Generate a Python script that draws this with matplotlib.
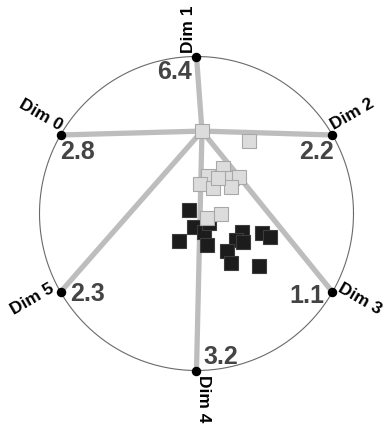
import matplotlib.pyplot as plt
import numpy as np

# dimension anchors on the unit circle (degrees) and their labels
dims = ["Dim 0", "Dim 1", "Dim 2", "Dim 3", "Dim 4", "Dim 5"]
angles = [150, 90, 30, -30, -90, -150]
weights = ["2.8", "6.4", "2.2", "1.1", "3.2", "2.3"]

# hub where all the axis lines meet
hub_x, hub_y = 0.035, 0.525

# light group
light_x = [0.035, 0.336, 0.167, 0.075, 0.022, 0.103, 0.224, 0.271, 0.218, 0.139, 0.065, 0.154]
light_y = [0.525, 0.464, 0.288, 0.241, 0.186, 0.161, 0.224, 0.234, 0.171, 0.224, -0.027, -0.005]

# dark group
dark_x = [-0.046, -0.016, 0.048, 0.080, -0.111, 0.065, 0.288, 0.250, 0.298, 0.192, 0.415, 0.468, 0.218, 0.398]
dark_y = [0.022, -0.084, -0.116, -0.062, -0.173, -0.201, -0.120, -0.169, -0.183, -0.237, -0.126, -0.152, -0.317, -0.334]

# pixel offsets of the weight numbers from each anchor
num_off = [(17, -17), (-22, -15), (-16, -17), (-26, -4), (24, 14), (27, -2)]

plt.rcParams['font.family'] = ['Liberation Sans', 'DejaVu Sans']

fig = plt.figure(figsize=(3.84, 4.32), dpi=100)
ax = fig.add_axes([0, 0, 1, 1])
ax.set_xlim(-1.2516, 1.1943)
ax.set_ylim(-1.3917, 1.3599)
ax.set_aspect('equal')
ax.axis('off')

t = np.linspace(0, 2 * np.pi, 400)
ax.plot(np.cos(t), np.sin(t), color='#6a6a6a', lw=0.8, zorder=1)

ang = np.radians(angles)
ax_x = np.cos(ang)
ax_y = np.sin(ang)

for i in range(len(dims)):
    ax.plot([hub_x, ax_x[i]], [hub_y, ax_y[i]], color='#bdbdbd', lw=3.8,
            solid_capstyle='butt', zorder=2)

ax.plot(ax_x, ax_y, 'o', color='black', ms=5.8, zorder=5)

ax.plot(dark_x, dark_y, 's', ms=10, mfc='#1c1c1c', mec='#3c3c3c', mew=0.8, zorder=3)
ax.plot(light_x, light_y, 's', ms=10, mfc='#dcdcdc', mec='#a8a8a8', mew=0.8, zorder=4)

for i in range(len(dims)):
    a = angles[i]
    dx = 4 * np.cos(ang[i])
    dy = 4 * np.sin(ang[i])
    if np.cos(ang[i]) > 0.01 or a in (90, -90):
        rot, ha = a, 'left'
    else:
        rot, ha = a + 180 if a < 0 else a - 180, 'right'
    ax.annotate(dims[i], (ax_x[i], ax_y[i]), xytext=(dx, dy), textcoords='offset pixels',
                rotation=rot, rotation_mode='anchor', ha=ha, va='bottom',
                fontsize=12.5, fontweight='bold', color='black', zorder=6)
    ax.annotate(weights[i], (ax_x[i], ax_y[i]), xytext=num_off[i], textcoords='offset pixels',
                ha='center', va='center', fontsize=18, fontweight='bold',
                color='#444444', zorder=6)

fig.savefig("out.png", dpi=100)
